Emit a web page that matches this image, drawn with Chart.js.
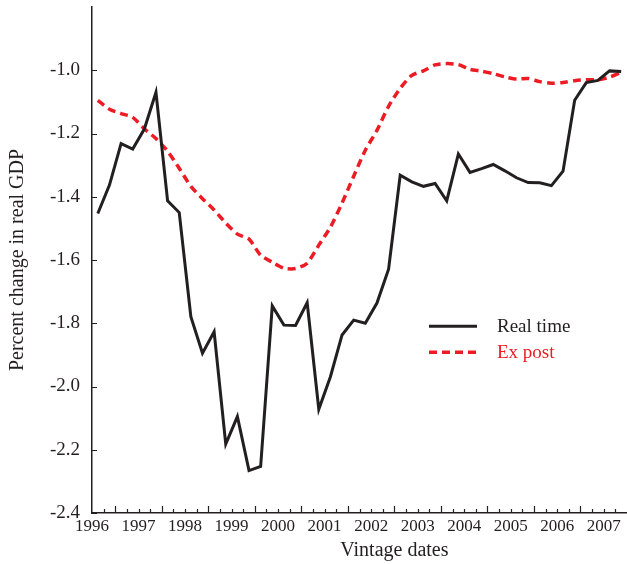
<!DOCTYPE html>
<html>
<head>
<meta charset="utf-8">
<script src="https://cdn.jsdelivr.net/npm/chart.js@4/dist/chart.umd.min.js"></script>
<style>
html,body{margin:0;padding:0;background:#ffffff;}
#wrap{width:627px;height:564px;position:relative;}
</style>
</head>
<body>
<div id="wrap"><canvas id="c" width="627" height="564"></canvas></div>
<script>
// ---- Data ----
const quarters = [
  "1996Q3","1996Q4",
  "1997Q1","1997Q2","1997Q3","1997Q4",
  "1998Q1","1998Q2","1998Q3","1998Q4",
  "1999Q1","1999Q2","1999Q3","1999Q4",
  "2000Q1","2000Q2","2000Q3","2000Q4",
  "2001Q1","2001Q2","2001Q3","2001Q4",
  "2002Q1","2002Q2","2002Q3","2002Q4",
  "2003Q1","2003Q2","2003Q3","2003Q4",
  "2004Q1","2004Q2","2004Q3","2004Q4",
  "2005Q1","2005Q2","2005Q3","2005Q4",
  "2006Q1","2006Q2","2006Q3","2006Q4",
  "2007Q1","2007Q2","2007Q3","2007Q4"
];
const realTime = [
  -1.453,-1.363,
  -1.232,-1.249,-1.186,-1.070,
  -1.413,-1.450,-1.779,-1.895,
  -1.827,-2.182,-2.095,-2.266,
  -2.253,-1.745,-1.806,-1.807,
  -1.735,-2.072,-1.969,-1.837,
  -1.790,-1.800,-1.736,-1.629,
  -1.332,-1.353,-1.367,-1.358,
  -1.413,-1.265,-1.323,-1.311,
  -1.298,-1.318,-1.340,-1.355,
  -1.356,-1.365,-1.319,-1.095,
  -1.039,-1.032,-1.002,-1.004
];
const exPost = [
  -1.095,-1.123,
  -1.137,-1.149,-1.185,-1.216,
  -1.256,-1.310,-1.367,-1.406,
  -1.442,-1.483,-1.518,-1.534,
  -1.585,-1.607,-1.626,-1.627,
  -1.610,-1.553,-1.496,-1.420,
  -1.335,-1.253,-1.190,-1.114,
  -1.057,-1.016,-1.002,-0.983,
  -0.979,-0.982,-0.997,-1.003,
  -1.011,-1.021,-1.028,-1.026,
  -1.036,-1.041,-1.039,-1.033,
  -1.030,-1.030,-1.022,-1.006
];
const yearLabels = ["1996","1997","1998","1999","2000","2001","2002","2003","2004","2005","2006","2007"];
const yTickValues = [-2.4,-2.2,-2.0,-1.8,-1.6,-1.4,-1.2,-1.0];
const seriesNames = ["Real time","Ex post"];
const xTitle = "Vintage dates";
const yTitle = "Percent change in real GDP";

// ---- Styling ----
const FONT = "'Liberation Serif', 'Times New Roman', serif";
const AXIS = "#231f20";
const BLACK = "#231f20";
const RED = "#ed1c24";
const X_MIN = 1996.5, X_MAX = 2008;

// quarter label -> decimal year at the quarter's centre
function quarterPos(q) {
  const yr = parseInt(q.slice(0, 4), 10);
  const n = parseInt(q.slice(5), 10);
  return yr + (n - 0.5) / 4;
}
const rtData = quarters.map((q, i) => ({ x: quarterPos(q), y: realTime[i] }));
const epData = quarters.map((q, i) => ({ x: quarterPos(q), y: exPost[i] }));

const decorPlugin = {
  id: 'decor',
  afterDraw(chart) {
    const { ctx, chartArea: ca, scales: { x, y } } = chart;
    ctx.save();
    // inward tick marks
    ctx.strokeStyle = AXIS;
    ctx.lineWidth = 1.2;
    ctx.beginPath();
    for (let k = 1; X_MIN + k * 0.25 < X_MAX - 1e-6; k++) {
      const t = X_MIN + k * 0.25;
      const px = Math.round(x.getPixelForValue(t)) + 0.5;
      const major = Math.abs(t - Math.round(t)) < 1e-6;
      const len = major ? 7 : 4;
      ctx.moveTo(px, ca.bottom);
      ctx.lineTo(px, ca.bottom - len);
    }
    yTickValues.forEach(v => {
      const py = Math.round(y.getPixelForValue(v)) + 0.5;
      ctx.moveTo(ca.left, py);
      ctx.lineTo(ca.left + 5, py);
    });
    ctx.stroke();

    // x axis title
    ctx.fillStyle = AXIS;
    ctx.font = "20px " + FONT;
    ctx.textAlign = 'center';
    ctx.textBaseline = 'middle';
    ctx.fillText(xTitle, x.getPixelForValue(2003), 551);

    // legend inside the plot
    const lx0 = ca.left + 337, lx1 = ca.left + 385, tx = ca.left + 405;
    const base = y.getPixelForValue(-1.8);
    const rows = [base + 3, base + 29];
    chart.data.datasets.forEach((ds, i) => {
      const yy = rows[i];
      ctx.beginPath();
      ctx.strokeStyle = ds.borderColor;
      ctx.lineWidth = ds.borderWidth;
      ctx.setLineDash(ds.borderDash || []);
      ctx.lineCap = 'butt';
      ctx.moveTo(lx0, yy);
      ctx.lineTo(lx1, yy);
      ctx.stroke();
      ctx.setLineDash([]);
      ctx.fillStyle = i === 0 ? BLACK : RED;
      ctx.font = "19px " + FONT;
      ctx.textAlign = 'left';
      ctx.textBaseline = 'middle';
      ctx.fillText(ds.label, tx, yy + 1);
    });
    ctx.restore();
  }
};

new Chart(document.getElementById('c'), {
  type: 'line',
  data: {
    datasets: [
      {
        label: seriesNames[0],
        data: rtData,
        borderColor: BLACK,
        borderWidth: 3,
        pointRadius: 0,
        tension: 0,
        borderJoinStyle: 'miter',
        fill: false
      },
      {
        label: seriesNames[1],
        data: epData,
        borderColor: RED,
        borderWidth: 3.5,
        borderDash: [8, 5],
        pointRadius: 0,
        tension: 0.25,
        fill: false
      }
    ]
  },
  options: {
    responsive: false,
    animation: false,
    devicePixelRatio: 1,
    layout: { padding: { top: 7, right: 0, bottom: 0, left: 0 } },
    plugins: {
      legend: { display: false },
      tooltip: { enabled: false }
    },
    scales: {
      x: {
        type: 'linear',
        min: X_MIN,
        max: X_MAX,
        grid: { display: false, drawTicks: false },
        border: { display: true, color: AXIS, width: 1.5 },
        afterBuildTicks(scale) {
          scale.ticks = yearLabels.map(l => ({ value: parseInt(l, 10) + 0.5, label: l }));
        },
        afterFit(scale) {
          scale.height = 51;
          scale.paddingLeft = 0; scale.paddingRight = 0;
        },
        ticks: {
          autoSkip: false,
          maxRotation: 0,
          padding: 3,
          color: AXIS,
          font: { family: FONT, size: 17 },
          callback: (v) => String(Math.floor(v))
        },
        title: { display: false }
      },
      y: {
        type: 'linear',
        min: -2.4,
        max: -0.8,
        grid: { display: false, drawTicks: false },
        border: { display: true, color: AXIS, width: 1.5 },
        afterBuildTicks(scale) {
          scale.ticks = yTickValues.map(v => ({ value: v }));
        },
        afterFit(scale) {
          scale.width = 92;
          scale.paddingTop = 0; scale.paddingBottom = 0;
        },
        ticks: {
          padding: 12,
          color: AXIS,
          font: { family: FONT, size: 19 },
          callback: (v) => v.toFixed(1)
        },
        title: {
          display: true,
          text: yTitle,
          color: AXIS,
          font: { family: FONT, size: 20 },
          padding: { top: 6, bottom: 0 }
        }
      }
    }
  },
  plugins: [decorPlugin]
});
</script>
</body>
</html>
